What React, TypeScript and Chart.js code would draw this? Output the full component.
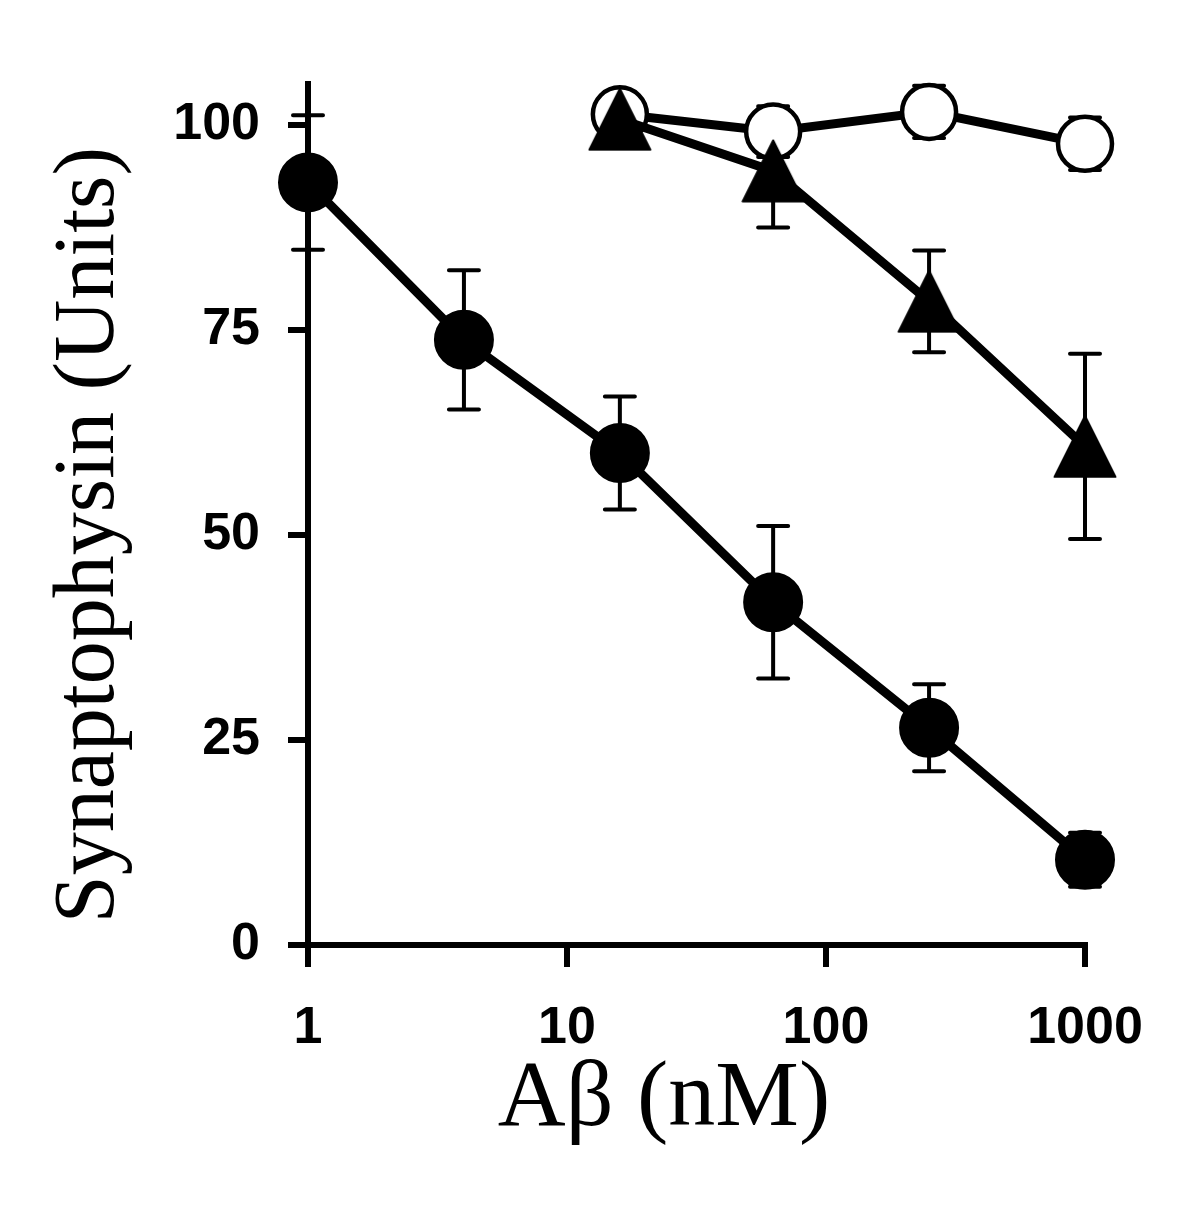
import React, { useEffect, useRef } from "react";
import { Chart, registerables } from "chart.js";

Chart.register(...registerables);

// ---- data ----
const doses = [1, 4, 16, 62.5, 250, 1000];
const filledValues = [93.0, 73.8, 60.0, 41.8, 26.5, 10.4];
const filledErrors = [8.2, 8.5, 6.9, 9.3, 5.3, 3.3];

const triDoses = [16, 62.5, 250, 1000];
const triValues = [100.7, 94.4, 78.5, 60.8];
const triErrors = [2.5, 6.9, 6.2, 11.3];

const openDoses = [16, 62.5, 250, 1000];
const openValues = [101.3, 99.2, 101.6, 97.7];
const openErrors = [2.7, 3.1, 3.2, 3.2];

const xTicks = [1, 10, 100, 1000];
const yTicks = [0, 25, 50, 75, 100];
const xTitle = "Aβ (nM)";
const yTitle = "Synaptophysin (Units)";

const W = 1200;
const H = 1218;

function makeTriangle(w: number, h: number): HTMLCanvasElement {
  const c = document.createElement("canvas");
  c.width = w;
  c.height = h;
  const g = c.getContext("2d")!;
  g.fillStyle = "#000";
  g.strokeStyle = "#000";
  g.lineJoin = "round";
  g.lineWidth = 2;
  g.beginPath();
  g.moveTo(w / 2, 1.5);
  g.lineTo(w - 1.5, h - 1.5);
  g.lineTo(1.5, h - 1.5);
  g.closePath();
  g.fill();
  g.stroke();
  return c;
}

const errorSets = [filledErrors, triErrors, openErrors];

const errorBarPlugin = {
  id: "errorBars",
  beforeDatasetsDraw(chart: any) {
    const ctx = chart.ctx;
    const xs = chart.scales.x;
    const ys = chart.scales.y;
    ctx.save();
    ctx.strokeStyle = "#000";
    ctx.lineWidth = 4;
    ctx.lineCap = "round";
    chart.data.datasets.forEach((ds: any, i: number) => {
      const errs = errorSets[i];
      ds.data.forEach((p: any, j: number) => {
        const e = errs[j];
        const x = xs.getPixelForValue(p.x);
        const yT = ys.getPixelForValue(p.y + e);
        const yB = ys.getPixelForValue(p.y - e);
        ctx.beginPath();
        ctx.moveTo(x, yT);
        ctx.lineTo(x, yB);
        ctx.moveTo(x - 15, yT);
        ctx.lineTo(x + 15, yT);
        ctx.moveTo(x - 15, yB);
        ctx.lineTo(x + 15, yB);
        ctx.stroke();
      });
    });
    ctx.restore();
  },
};

const titlePlugin = {
  id: "axisTitles",
  afterDraw(chart: any) {
    const ctx = chart.ctx;
    const area = chart.chartArea;
    ctx.save();
    ctx.fillStyle = "#000";
    ctx.textAlign = "center";
    ctx.textBaseline = "alphabetic";
    ctx.font = '86px "Liberation Serif"';
    ctx.translate(area.left - 195, area.top + 451);
    ctx.rotate(-Math.PI / 2);
    ctx.fillText(yTitle, 0, 0);
    ctx.restore();
    ctx.save();
    ctx.fillStyle = "#000";
    ctx.textAlign = "center";
    ctx.textBaseline = "alphabetic";
    ctx.font = '94px "Liberation Serif"';
    ctx.fillText(xTitle, area.left + 356, area.bottom + 180);
    ctx.restore();
  },
};

export default function App() {
  const ref = useRef<HTMLCanvasElement | null>(null);

  useEffect(() => {
    if (!ref.current) return;
    const tri = makeTriangle(64, 64);
    const chart = new Chart(ref.current, {
      type: "line",
      data: {
        datasets: [
          {
            label: "filled",
            data: doses.map((d, i) => ({ x: d, y: filledValues[i] })),
            borderColor: "#000",
            borderWidth: 9,
            pointStyle: "circle",
            pointRadius: 29,
            pointBackgroundColor: "#000",
            pointBorderColor: "#000",
            pointBorderWidth: 2,
            clip: false as any,
          },
          {
            label: "triangle",
            data: triDoses.map((d, i) => ({ x: d, y: triValues[i] })),
            borderColor: "#000",
            borderWidth: 9,
            pointStyle: tri as any,
            pointRadius: 32,
            pointBackgroundColor: "#000",
            clip: false as any,
          },
          {
            label: "open",
            data: openDoses.map((d, i) => ({ x: d, y: openValues[i] })),
            borderColor: "#000",
            borderWidth: 9,
            pointStyle: "circle",
            pointRadius: 27,
            pointBackgroundColor: "#fff",
            pointBorderColor: "#000",
            pointBorderWidth: 4.5,
            clip: false as any,
          },
        ],
      },
      options: {
        responsive: false,
        animation: false,
        events: [],
        layout: { padding: { top: 84, right: 115, left: 0, bottom: 0 } },
        plugins: {
          legend: { display: false },
          tooltip: { enabled: false },
        },
        scales: {
          x: {
            type: "logarithmic",
            position: "bottom",
            min: 1,
            max: 1000,
            afterFit: (s: any) => {
              s.height = H - 945;
            },
            afterBuildTicks: (s: any) => {
              s.ticks = xTicks.map((v) => ({ value: v }));
            },
            ticks: {
              autoSkip: false,
              maxRotation: 0,
              padding: 30,
              color: "#000",
              font: { family: "Liberation Sans", weight: "bold", size: 52 },
              callback: (v: any) => String(v),
            },
            grid: {
              display: true,
              drawOnChartArea: false,
              drawTicks: true,
              tickLength: 22,
              lineWidth: 6,
              color: "#000",
            },
            border: { display: true, width: 6, color: "#000" },
          },
          y: {
            type: "linear",
            min: 0,
            max: 105,
            afterFit: (s: any) => {
              s.width = 308;
            },
            afterBuildTicks: (s: any) => {
              s.ticks = yTicks.map((v) => ({ value: v }));
            },
            ticks: {
              autoSkip: false,
              padding: 28,
              color: "#000",
              font: { family: "Liberation Sans", weight: "bold", size: 52 },
              callback: (v: any) => String(v),
            },
            grid: {
              display: true,
              drawOnChartArea: false,
              drawTicks: true,
              tickLength: 20,
              lineWidth: 6,
              color: "#000",
            },
            border: { display: true, width: 6, color: "#000" },
          },
        },
      } as any,
      plugins: [errorBarPlugin, titlePlugin],
    });
    return () => chart.destroy();
  }, []);

  return (
    <div style={{ position: "absolute", left: 0, top: 0, width: W, height: H, background: "#fff" }}>
      <canvas ref={ref} width={W} height={H} style={{ width: W, height: H, display: "block" }} />
    </div>
  );
}
